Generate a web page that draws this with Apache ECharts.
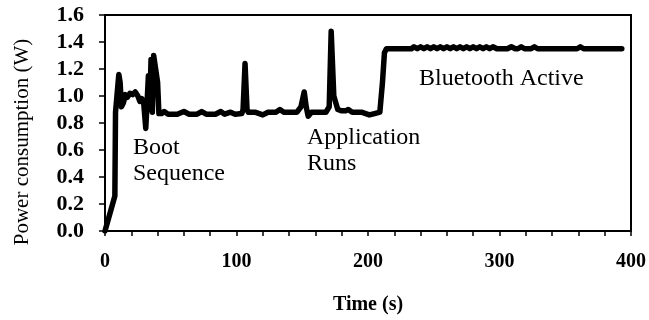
<!DOCTYPE html>
<html>
<head>
<meta charset="utf-8">
<script src="https://cdn.jsdelivr.net/npm/echarts@6/dist/echarts.min.js"></script>
<style>
  html, body { margin: 0; padding: 0; background: #fff; }
  #chart { width: 649px; height: 320px; }
</style>
</head>
<body>
<div id="chart"></div>
<script>
// time (s) and power (W)
const times = [
  0, 7.5, 8, 9, 10.5, 11.5, 12.5, 14, 15.5, 17, 19, 21, 23, 25, 26.5, 28, 29.5, 31, 32, 33, 34, 35, 36, 37, 38.5, 40, 41,
  43, 45, 48, 55, 60, 64, 70, 73.5, 77, 84, 88, 91, 95.5, 99, 104, 105, 106.5, 108, 109,
  114, 120, 124, 130, 133, 136, 146, 149, 151.5, 153, 154.5, 157, 168, 170.5, 172, 174, 175.5, 177, 180, 183, 185, 188, 195, 201, 205, 209, 211, 212.5, 214,
  220, 228, 233, 235, 237.5, 240, 242.5, 245, 247.5, 250, 252.5, 255, 257.5, 260, 262.5, 265, 267.5, 270, 272.5, 275, 277.5,
  280, 282.5, 285, 287.5, 290, 292.5, 295, 298, 306, 309, 312, 314, 316.5, 319, 324, 326.5, 329, 359, 361.5, 364, 393
]
const power = [
  0, 0.26, 0.88, 0.89, 1.16, 1.1, 0.92, 0.95, 1.01, 0.99, 1.02, 1.01, 1.03, 1.0, 0.96, 0.98, 0.94, 0.76, 0.95, 1.15, 0.9, 1.27, 0.88, 1.3, 1.31, 1.1, 0.87,
  0.87, 0.885, 0.865, 0.865, 0.885, 0.865, 0.865, 0.885, 0.865, 0.865, 0.885, 0.865, 0.88, 0.865, 0.87, 0.9, 1.24, 0.9, 0.88,
  0.88, 0.86, 0.88, 0.88, 0.9, 0.88, 0.88, 0.92, 1.03, 0.92, 0.85, 0.88, 0.88, 0.92, 1.48, 1.0, 1.0, 0.9, 0.89, 0.89, 0.9, 0.88, 0.88, 0.86, 0.87, 0.88, 1.1, 1.32, 1.35,
  1.35, 1.35, 1.35, 1.365, 1.35, 1.365, 1.35, 1.365, 1.35, 1.365, 1.35, 1.365, 1.35, 1.365, 1.35, 1.365, 1.35, 1.365, 1.35, 1.365, 1.35,
  1.365, 1.35, 1.365, 1.35, 1.365, 1.35, 1.365, 1.35, 1.35, 1.365, 1.35, 1.35, 1.365, 1.35, 1.35, 1.365, 1.35, 1.35, 1.365, 1.35, 1.35
]
const xTickLabels = [0, 100, 200, 300, 400]
const annotations = ['Boot', 'Sequence', 'Application', 'Runs', 'Bluetooth Active']

const serif = '"Liberation Serif", "Times New Roman", serif'
const chart = echarts.init(document.getElementById('chart'))

const option = {
  backgroundColor: '#fff',
  animation: false,
  grid: {
    left: 105,
    right: 11,
    top: 15,
    bottom: 81,
    show: true,
    borderColor: '#000',
    borderWidth: 2
  },
  xAxis: {
    type: 'value',
    min: 0,
    max: 400,
    interval: 20,
    name: 'Time (s)',
    nameLocation: 'middle',
    nameGap: 64,
    nameTextStyle: { fontFamily: serif, fontWeight: 'bold', fontSize: 20, color: '#000' },
    axisLine: { lineStyle: { color: '#000', width: 2 } },
    axisTick: { length: 5, lineStyle: { color: '#000', width: 1.5 } },
    axisLabel: {
      margin: 21,
      fontFamily: serif,
      fontWeight: 'bold',
      fontSize: 20,
      color: '#000',
      formatter: v => (xTickLabels.indexOf(v) >= 0 ? String(v) : '')
    },
    splitLine: { show: false }
  },
  yAxis: {
    type: 'value',
    min: 0,
    max: 1.6,
    interval: 0.2,
    axisLine: { show: true, lineStyle: { color: '#000', width: 2 } },
    axisTick: { show: true, length: 6, lineStyle: { color: '#000', width: 1.5 } },
    axisLabel: {
      margin: 21,
      fontFamily: serif,
      fontWeight: 'bold',
      fontSize: 22,
      color: '#000',
      formatter: v => v.toFixed(1)
    },
    splitLine: { show: false }
  },
  series: [{
    type: 'line',
    data: times.map((t, i) => [t, power[i]]),
    symbol: 'none',
    lineStyle: { color: '#000', width: 5.5, join: 'round', cap: 'round' }
  }],
  graphic: [
    {
      type: 'text', x: 22, y: 142, rotation: Math.PI / 2,
      style: { text: 'Power consumption (W)', font: '21px ' + serif, fill: '#000', align: 'center', verticalAlign: 'middle' }
    },
    { type: 'text', left: 133, top: 136, style: { text: annotations[0], font: '24px ' + serif, fill: '#000' } },
    { type: 'text', left: 133, top: 162, style: { text: annotations[1], font: '24px ' + serif, fill: '#000' } },
    { type: 'text', left: 307, top: 126, style: { text: annotations[2], font: '24px ' + serif, fill: '#000' } },
    { type: 'text', left: 307, top: 152, style: { text: annotations[3], font: '24px ' + serif, fill: '#000' } },
    { type: 'text', left: 419, top: 67, style: { text: annotations[4], font: '24px ' + serif, fill: '#000' } }
  ]
}

chart.setOption(option)
</script>
</body>
</html>
